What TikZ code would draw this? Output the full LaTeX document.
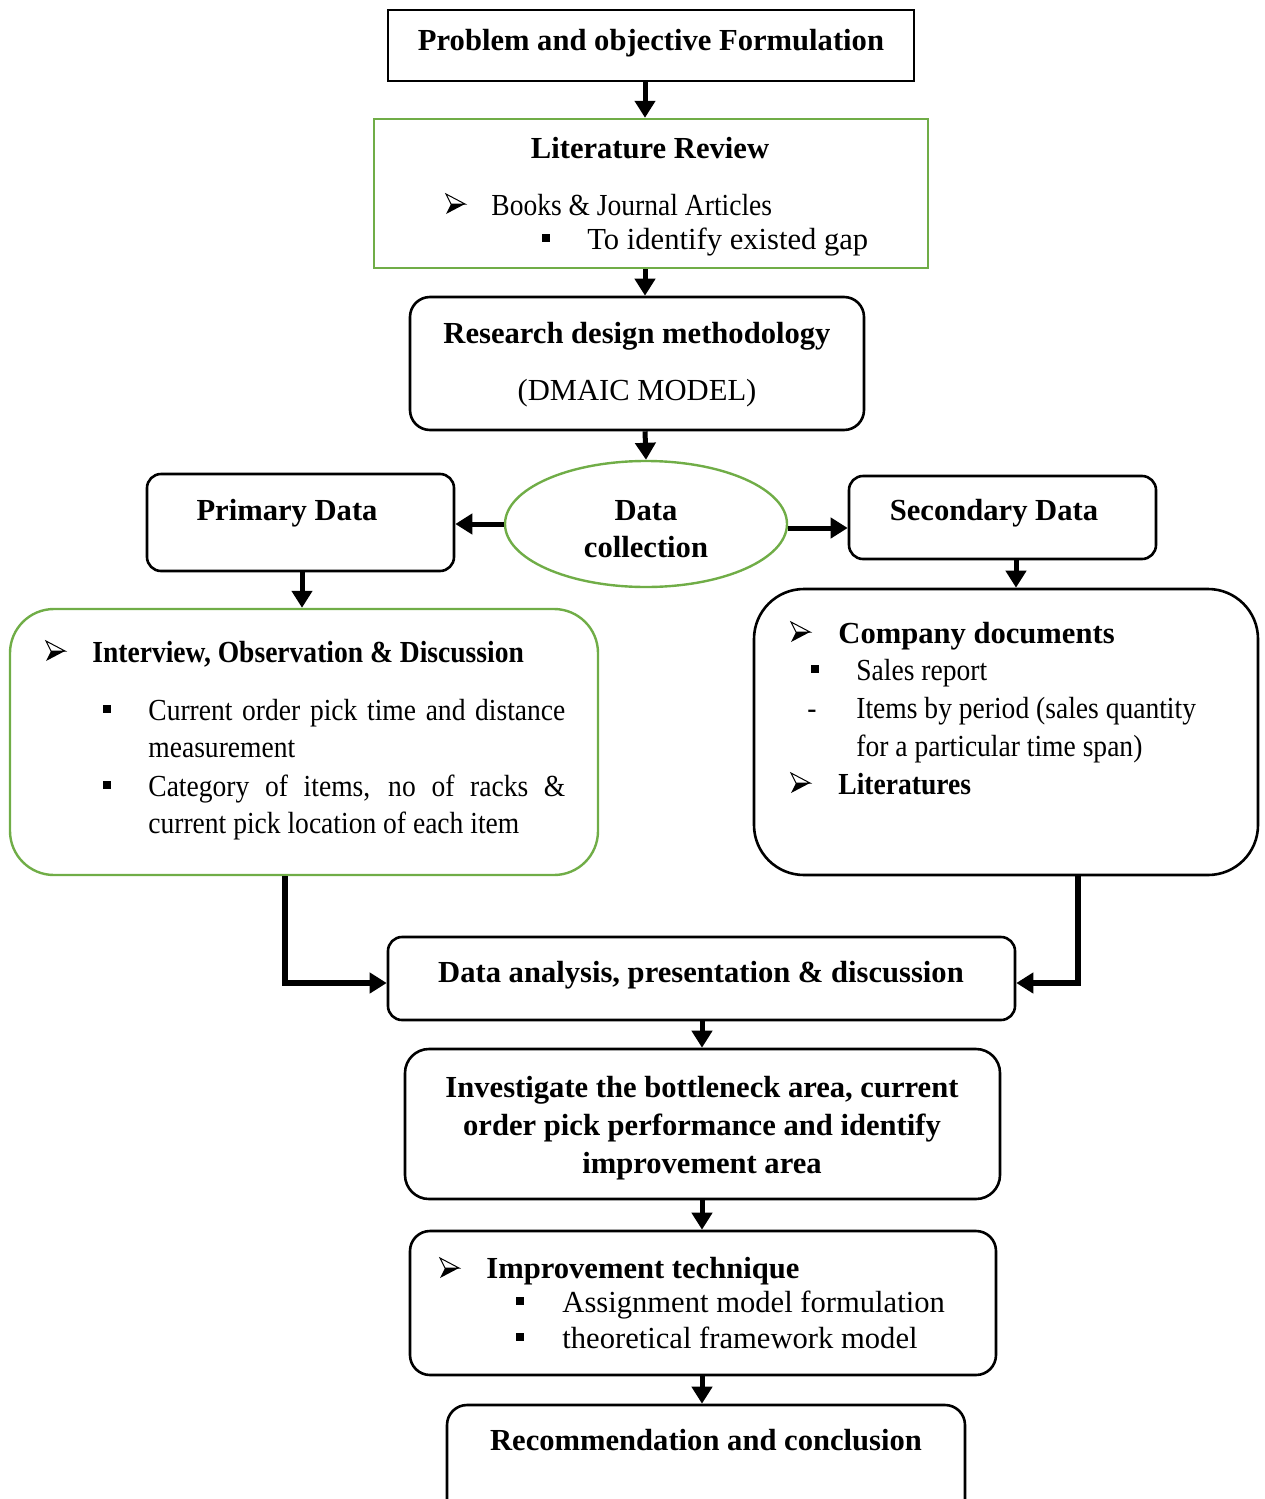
\documentclass[tikz,border=0pt]{standalone}
\usepackage{fontspec}
\setmainfont{Liberation Serif}
\newfontfamily\narrowfont[FakeStretch=0.9]{Liberation Serif}
\usetikzlibrary{arrows.meta,fit,shapes.geometric}
\definecolor{leafgreen}{RGB}{112,173,71}
\tikzset{
  frame/.style={draw, line width=1.3pt, inner sep=0pt},
  rframe/.style={frame, rounded corners=#1},
  gframe/.style={draw=leafgreen, line width=1.2pt, inner sep=0pt},
  arr/.style={line width=2.5pt, -{Triangle[width=10pt,length=8.5pt]}},
  elbow/.style={line width=2.6pt, -{Triangle[width=10pt,length=8.5pt]}},
  txt/.style={inner sep=0pt, font=\fontsize{15.3}{18}\selectfont},
  btxt/.style={txt, font=\fontsize{15.3}{18}\selectfont\bfseries},
  ntxt/.style={inner sep=0pt, font=\fontsize{15.3}{18}\selectfont\narrowfont},
  nbtxt/.style={inner sep=0pt, font=\fontsize{15.3}{18}\selectfont\narrowfont\bfseries},
  sqbullet/.style={fill, inner sep=0pt, minimum size=4.2pt},
  % three-dimensional arrowhead bullet: light upper face, dark lower face
  pointer/.pic={
    \draw[line width=0.5pt, fill=white, line join=miter] (10,0) -- (-9,-10) -- (-4,0) -- cycle;
    \fill (10,0) -- (-4,0) -- (-9,10) -- cycle;
  },
}
\begin{document}
\begin{tikzpicture}[x=0.5pt, y=-0.5pt]
\useasboundingbox (0,0) rectangle (1264,1499);
\clip (0,0) rectangle (1264,1499);

% ---- boxes ----
\node[frame, fit={(388,10) (914,81)}] (prob) {};
\node[gframe, fit={(374,119) (928,268)}] (lit) {};
\node[rframe=10pt, fit={(410,297) (864,430)}] (rdm) {};
\node[ellipse, draw=leafgreen, line width=1.2pt, inner sep=0pt,
      minimum width=141pt, minimum height=63pt] (dc) at (646,524) {};
\node[rframe=7pt, fit={(147,474) (454,571)}] (prim) {};
\node[rframe=7pt, fit={(849,476) (1156,559)}] (sec) {};
\node[gframe, rounded corners=22pt, fit={(10,609) (598,875)}] (intv) {};
\node[rframe=25pt, fit={(754,589) (1258,875)}] (comp) {};
\node[rframe=7pt, fit={(388,937) (1015,1020)}] (da) {};
\node[rframe=12pt, fit={(405,1049) (1000,1199)}] (inv) {};
\node[rframe=10pt, fit={(410,1231) (996,1375)}] (imp) {};
\node[rframe=10pt, fit={(447,1405) (965,1530)}] (rec) {};

% ---- column guides for the vertical connectors ----
\coordinate (colA) at (645,0);
\coordinate (colB) at (302,0);
\coordinate (colC) at (1016,0);
\coordinate (colD) at (285,0);
\coordinate (colE) at (1078,0);
\coordinate (colF) at (702,0);
\coordinate (rowG) at (0,983);

% ---- connectors ----
\draw[arr] (prob.south -| colA) -- (lit.north -| colA);
\draw[arr] (lit.south -| colA) -- (rdm.north -| colA);
\draw[arr] (rdm.south -| colA) -- (dc.north);
\draw[arr] (dc.west) -- (dc.west -| prim.east);
\draw[arr] ([yshift=-2pt]dc.east) -- ([yshift=-2pt]dc.east -| sec.west);
\draw[arr] (prim.south -| colB) -- (intv.north -| colB);
\draw[arr] (sec.south -| colC) -- (comp.north -| colC);
\draw[elbow] (intv.south -| colD) |- (rowG -| da.west);
\draw[elbow] (comp.south -| colE) |- (rowG -| da.east);
\draw[arr] (da.south -| colF) -- (inv.north -| colF);
\draw[arr] (inv.south -| colF) -- (imp.north -| colF);
\draw[arr] (imp.south -| colF) -- (rec.north -| colF);

% ---- texts ----
\node[btxt, anchor=base] (t1) at (651,50) {Problem and objective Formulation};

\node[btxt, anchor=base] (t2) at (650,158) {Literature Review};
\pic at (455,204) {pointer};
\node[ntxt, anchor=base west] (t2a) at (491,215) {Books \& Journal Articles};
\node[sqbullet] (q2b) at (546,238) {};
\node[txt, anchor=base west] (t2b) at (587,249) {To identify existed gap};

\node[btxt, anchor=base] (t3) at (637,343) {Research design methodology};
\node[txt, anchor=base] (t3a) at (637,400) {(DMAIC MODEL)};

\node[btxt, anchor=base] (t4a) at (646,520) {Data};
\node[btxt, anchor=base] (t4b) at (646,557) {collection};
\node[btxt, anchor=base] (t5) at (287,520) {Primary Data};
\node[btxt, anchor=base] (t6) at (994,520) {Secondary Data};

\pic at (55,651) {pointer};
\node[nbtxt, anchor=base west] (t7) at (92,662) {Interview, Observation \& Discussion};
\node[sqbullet] (q7a) at (107,709) {};
\node[ntxt, anchor=base west] (t7a) at (148,720) {\makebox[208.5pt][s]{Current order pick time and distance}};
\node[ntxt, anchor=base west] (t7b) at (148,757) {measurement};
\node[sqbullet] (q7c) at (107,785) {};
\node[ntxt, anchor=base west] (t7c) at (148,796) {\makebox[208.5pt][s]{Category of items, no of racks \&}};
\node[ntxt, anchor=base west] (t7d) at (148,833) {current pick location of each item};

\pic at (800,632) {pointer};
\node[btxt, anchor=base west] (t8) at (838,643) {Company documents};
\node[sqbullet] (q8a) at (815,669) {};
\node[ntxt, anchor=base west] (t8a) at (856,680) {Sales report};
\node[ntxt, anchor=base] (d8b) at (812,718) {-};
\node[ntxt, anchor=base west] (t8b) at (856,718) {Items by period (sales quantity};
\node[ntxt, anchor=base west] (t8c) at (856,756) {for a particular time span)};
\pic at (800,783) {pointer};
\node[nbtxt, anchor=base west] (t8d) at (838,794) {Literatures};

\node[btxt, anchor=base] (t9) at (701,982) {Data analysis, presentation \& discussion};

\node[btxt, anchor=base] (t10a) at (702,1097) {Investigate the bottleneck area, current};
\node[btxt, anchor=base] (t10b) at (702,1135) {order pick performance and identify};
\node[btxt, anchor=base] (t10c) at (702,1173) {improvement area};

\pic at (449,1268) {pointer};
\node[btxt, anchor=base west] (t11) at (486,1278) {Improvement technique};
\node[sqbullet] (q11a) at (520,1301) {};
\node[txt, anchor=base west] (t11a) at (562,1312) {Assignment model formulation};
\node[sqbullet] (q11b) at (520,1337) {};
\node[txt, anchor=base west] (t11b) at (562,1348) {theoretical framework model};

\node[btxt, anchor=base] (t12) at (706,1450) {Recommendation and conclusion};
\end{tikzpicture}
\end{document}
